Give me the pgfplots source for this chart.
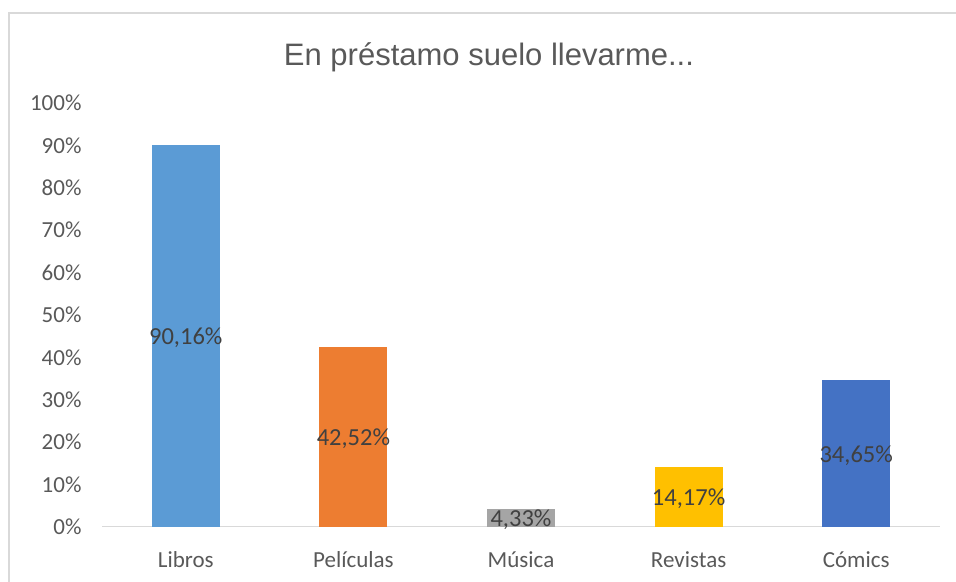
\documentclass[border=0pt]{standalone}
\usepackage{pgfplots}
\pgfplotsset{compat=1.18}
\usepackage{fontspec}
\setmainfont{Carlito}
\newfontfamily\titlefont{Liberation Sans}
\definecolor{c1}{HTML}{5B9BD5}
\definecolor{c2}{HTML}{ED7D31}
\definecolor{c3}{HTML}{A5A5A5}
\definecolor{c4}{HTML}{FFC000}
\definecolor{c5}{HTML}{4472C4}
\definecolor{txt}{HTML}{595959}
\definecolor{lbl}{HTML}{404040}
\definecolor{gridc}{HTML}{D9D9D9}
\begin{document}
\begin{tikzpicture}[x=1bp,y=1bp]
\path[use as bounding box] (0,0) rectangle (956,582);
\draw[gridc, line width=2bp] (9,-2) -- (9,569) -- (958,569);
\node[txt, font=\titlefont\fontsize{31bp}{36bp}\selectfont] at (489,525) {En préstamo suelo llevarme...};
\begin{axis}[
  at={(102bp,55bp)}, anchor=south west,
  scale only axis, width=838bp, height=424bp,
  xmin=-0.5, xmax=4.5, ymin=0, ymax=100,
  axis x line*=bottom, axis y line*=left,
  x axis line style={gridc, line width=1bp},
  y axis line style={draw=none},
  major tick length=0pt,
  ytick={0,10,...,100},
  yticklabel={\pgfmathprintnumber{\tick}\%},
  /pgf/number format/assume math mode=true,
  yticklabel style={txt, font=\fontsize{23bp}{27bp}\selectfont, anchor=east, xshift=-17bp},
  xtick={0,1,2,3,4},
  xticklabels={Libros,Películas,Música,Revistas,Cómics},
  xticklabel style={txt, font=\fontsize{23bp}{27bp}\selectfont, anchor=center, yshift=-33bp},
  ybar, bar width=68bp,
  every axis plot/.append style={draw=none, bar shift=0pt, visualization depends on=y \as \rawy},
  nodes near coords={\pgfmathprintnumber[fixed,fixed zerofill,precision=2,use comma]{\pgfplotspointmeta}\%},
  every node near coord/.append style={anchor=center, lbl, font=\fontsize{24.5bp}{28bp}\selectfont, shift={(axis direction cs:0,-\rawy/2)}, yshift=-2bp},
]
\addplot[fill=c1] coordinates {(0,90.16)};
\addplot[fill=c2] coordinates {(1,42.52)};
\addplot[fill=c3] coordinates {(2,4.33)};
\addplot[fill=c4] coordinates {(3,14.17)};
\addplot[fill=c5] coordinates {(4,34.65)};
\end{axis}
\end{tikzpicture}
\end{document}
